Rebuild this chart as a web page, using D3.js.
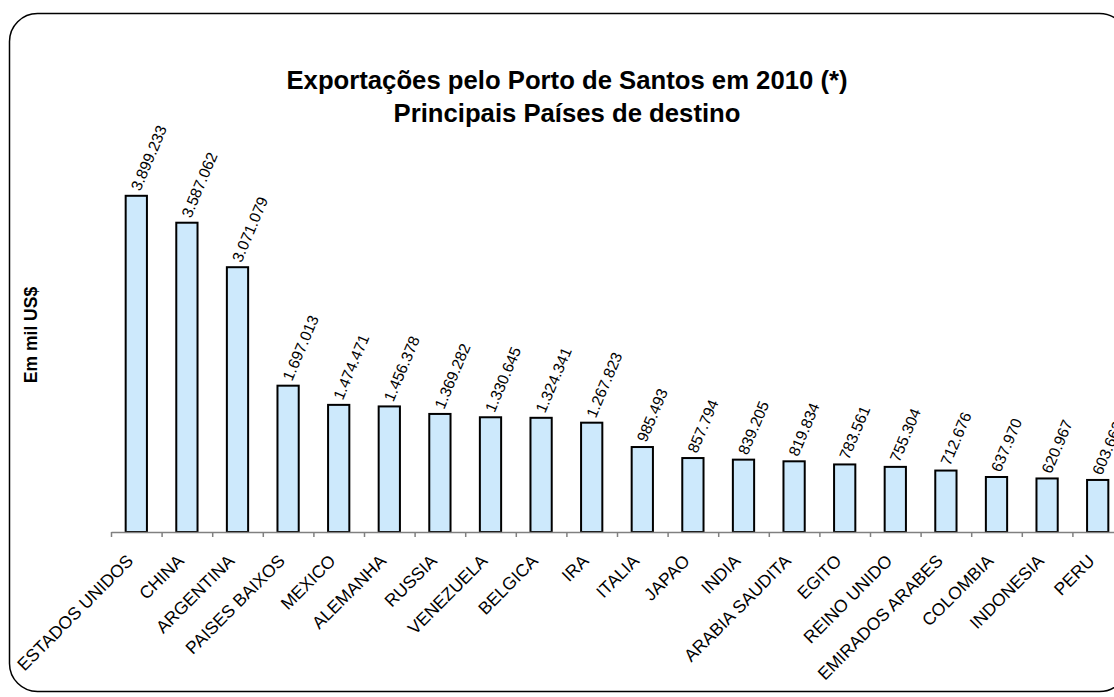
<!DOCTYPE html>
<html>
<head>
<meta charset="utf-8">
<script src="https://cdn.jsdelivr.net/npm/d3@7"></script>
<style>
  body { margin: 0; background: #fff; }
  text { font-family: "Liberation Sans", Arial, sans-serif; }
</style>
</head>
<body>
<div id="chart"></div>
<script>
// Data
var countries = ["ESTADOS UNIDOS", "CHINA", "ARGENTINA", "PAISES BAIXOS", "MEXICO", "ALEMANHA",
  "RUSSIA", "VENEZUELA", "BELGICA", "IRA", "ITALIA", "JAPAO", "INDIA", "ARABIA SAUDITA",
  "EGITO", "REINO UNIDO", "EMIRADOS ARABES", "COLOMBIA", "INDONESIA", "PERU"];
var exports2010 = [3899233, 3587062, 3071079, 1697013, 1474471, 1456378, 1369282, 1330645,
  1324341, 1267823, 985493, 857794, 839205, 819834, 783561, 755304, 712676, 637970, 620967, 603663];
var titleLines = ["Exportações pelo Porto de Santos em 2010 (*)", "Principais Países de destino"];
var yTitle = "Em mil US$";

var svgWidth = 1114;
var svgHeight = 697;

var svg = d3.select("#chart")
  .append("svg")
  .attr("width", svgWidth)
  .attr("height", svgHeight);

// chart border (runs off the right edge like the original)
svg.append("rect")
  .attr("x", 9.5)
  .attr("y", 13.5)
  .attr("width", 1118)
  .attr("height", 678)
  .attr("rx", 28)
  .attr("fill", "white")
  .attr("stroke", "black")
  .attr("stroke-width", 1.5);

// scales
var x = d3.scaleBand()
  .domain(countries)
  .range([111, 111 + 20 * 50.6])
  .padding(0);

var xTicks = d3.scaleLinear()
  .domain([0, countries.length])
  .range(x.range());

var y = d3.scaleLinear()
  .domain([0, 4500000])
  .range([532, 144]);

var barW = x.bandwidth() * 0.42;
var fmt = d3.formatLocale({ decimal: ",", thousands: ".", grouping: [3], currency: ["", ""] }).format(",d");

// bars
svg.selectAll(".bar")
  .data(exports2010)
  .enter()
  .append("rect")
  .attr("class", "bar")
  .attr("x", (d, i) => x(countries[i]) + (x.bandwidth() - barW) / 2)
  .attr("y", d => y(d))
  .attr("width", barW)
  .attr("height", d => y(0) - y(d))
  .attr("fill", "#cde9fc")
  .attr("stroke", "black")
  .attr("stroke-width", 2);

// axis line + tick marks between categories
var axis = svg.append("g")
  .attr("transform", `translate(0, ${y(0)})`)
  .call(d3.axisBottom(xTicks)
    .tickValues(d3.range(0, countries.length + 1))
    .tickFormat("")
    .tickSize(5)
    .tickSizeOuter(0));
axis.select(".domain").attr("stroke", "#808080").attr("stroke-width", 1.5);
axis.selectAll(".tick line").attr("stroke", "#808080").attr("stroke-width", 1.5);

// category labels
svg.selectAll(".cat")
  .data(countries)
  .enter()
  .append("text")
  .attr("class", "cat")
  .attr("transform", d => `translate(${x(d) + x.bandwidth() / 2 - 2}, ${y(0) + 30}) rotate(-45)`)
  .attr("text-anchor", "end")
  .attr("font-size", "17.5px")
  .attr("fill", "black")
  .text(d => d);

// value labels
svg.selectAll(".val")
  .data(exports2010)
  .enter()
  .append("text")
  .attr("class", "val")
  .attr("transform", (d, i) => `translate(${x(countries[i]) + x.bandwidth() / 2 + 4}, ${y(d) - 4}) rotate(-67)`)
  .attr("text-anchor", "start")
  .attr("font-size", "15.5px")
  .attr("fill", "black")
  .text(d => fmt(d));

// title
svg.selectAll(".title")
  .data(titleLines)
  .enter()
  .append("text")
  .attr("class", "title")
  .attr("x", 567)
  .attr("y", (d, i) => 89 + i * 33)
  .attr("text-anchor", "middle")
  .attr("font-size", "25.7px")
  .attr("font-weight", "bold")
  .text(d => d);

// y axis title
svg.append("text")
  .attr("transform", "translate(37, 335) rotate(-90)")
  .attr("text-anchor", "middle")
  .attr("font-size", "17.5px")
  .attr("font-weight", "bold")
  .text(yTitle);
</script>
</body>
</html>
